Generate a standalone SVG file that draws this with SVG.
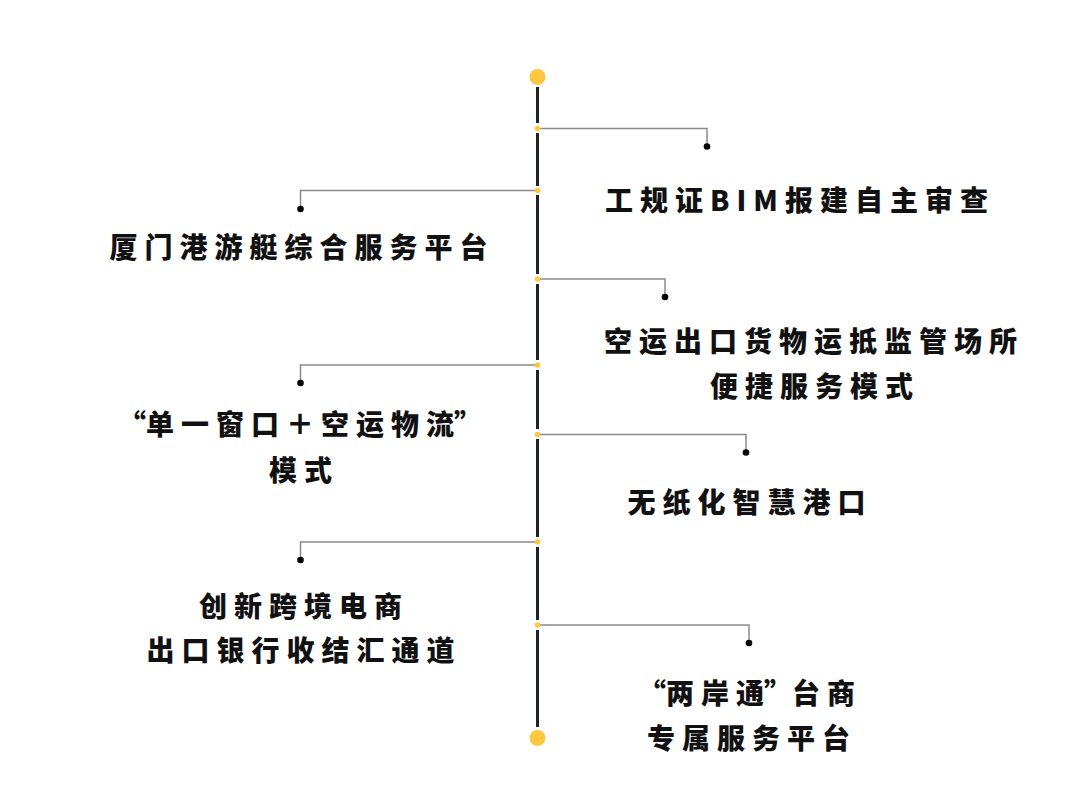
<svg xmlns="http://www.w3.org/2000/svg" width="1080" height="800" viewBox="0 0 1080 800">
<style>
.spine{stroke:#1e2328;stroke-width:3;fill:none}
.conn{stroke:#8a8a8a;stroke-width:1.5;fill:none}
.end{fill:#000}
.big{fill:#ffc640}
.jn{fill:#ffc640}
.lbl{font-family:"Noto Sans CJK SC","Noto Sans",sans-serif;font-weight:900;font-size:28px;letter-spacing:7px;fill:#111;text-anchor:middle}
.q{letter-spacing:0}
</style>
<rect width="1080" height="800" fill="#fff"/>
<g id="spine">
<path class="spine" d="M537.5 87V123M537.5 133V186M537.5 195V274M537.5 284V360M537.5 370V429M537.5 439V537M537.5 547V620M537.5 630V727"/>
<circle class="big" cx="537.5" cy="77" r="8"/>
<circle class="big" cx="537.5" cy="738" r="8"/>
</g>
<g id="connectors">
<path class="conn" d="M537.5 128.5H707V146"/>
<path class="conn" d="M537.5 190.5H300.5V209"/>
<path class="conn" d="M537.5 279H665V297"/>
<path class="conn" d="M537.5 365H300.5V383"/>
<path class="conn" d="M537.5 434.5H746V452"/>
<path class="conn" d="M537.5 542H300.5V560"/>
<path class="conn" d="M537.5 625H749V643"/>
<circle class="jn" cx="537.5" cy="128.5" r="2.8"/>
<circle class="jn" cx="537.5" cy="190.5" r="2.8"/>
<circle class="jn" cx="537.5" cy="279" r="2.8"/>
<circle class="jn" cx="537.5" cy="365" r="2.8"/>
<circle class="jn" cx="537.5" cy="434.5" r="2.8"/>
<circle class="jn" cx="537.5" cy="542" r="2.8"/>
<circle class="jn" cx="537.5" cy="625" r="2.8"/>
</g>
<g id="n1"><circle class="end" cx="707" cy="146.5" r="3.3"/><text class="lbl" x="800" y="211">工规证BIM报建自主审查</text></g>
<g id="n2"><circle class="end" cx="300.5" cy="209" r="3.3"/><text class="lbl" x="302" y="258">厦门港游艇综合服务平台</text></g>
<g id="n3"><circle class="end" cx="665" cy="297" r="3.3"/><text class="lbl" x="814" y="352">空运出口货物运抵监管场所</text><text class="lbl" x="815" y="397">便捷服务模式</text></g>
<g id="n4"><circle class="end" cx="300.5" cy="383" r="3.3"/><text class="lbl" x="300" y="435"><tspan class="q">“</tspan>单一窗口＋空运物<tspan class="q">流”</tspan></text><text class="lbl" x="304" y="481">模式</text></g>
<g id="n5"><circle class="end" cx="746" cy="452.5" r="3.3"/><text class="lbl" x="750" y="513">无纸化智慧港口</text></g>
<g id="n6"><circle class="end" cx="300.5" cy="560" r="3.3"/><text class="lbl" x="304" y="617">创新跨境电商</text><text class="lbl" x="304" y="661">出口银行收结汇通道</text></g>
<g id="n7"><circle class="end" cx="749" cy="643" r="3.3"/><text class="lbl" x="750" y="704"><tspan class="q">“</tspan>两岸<tspan class="q">通”</tspan>台商</text><text class="lbl" x="752" y="749">专属服务平台</text></g>
</svg>
